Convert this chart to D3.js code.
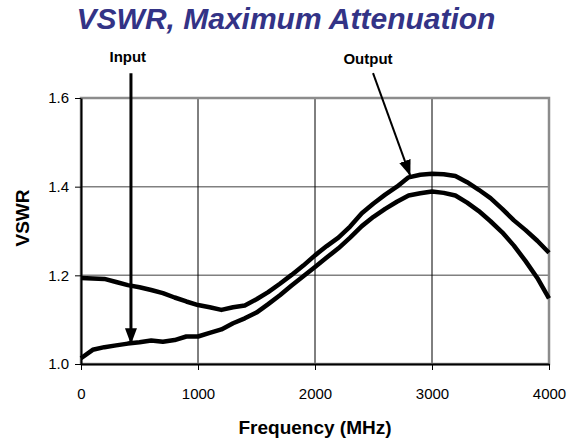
<!DOCTYPE html>
<html>
<head>
<meta charset="utf-8">
<script src="https://cdn.jsdelivr.net/npm/d3@7"></script>
<style>
  body { margin: 0; background: #fff; }
  text { font-family: Arial, "Liberation Sans", sans-serif; }
</style>
</head>
<body>
<svg id="chart" width="585" height="442"></svg>
<script>
const frequencies = [0, 100, 200, 300, 400, 500, 600, 700, 800, 900,
  1000, 1100, 1200, 1300, 1400, 1500, 1600, 1700, 1800, 1900,
  2000, 2100, 2200, 2300, 2400, 2500, 2600, 2700, 2800, 2900,
  3000, 3100, 3200, 3300, 3400, 3500, 3600, 3700, 3800, 3900, 4000];

// curve that starts high (arrow "Output" points to it near the peak)
const upperVswr = [1.194, 1.193, 1.192, 1.185, 1.178, 1.173, 1.167, 1.160, 1.150, 1.141,
  1.133, 1.128, 1.122, 1.128, 1.132, 1.146, 1.162, 1.181, 1.201, 1.222,
  1.245, 1.266, 1.285, 1.310, 1.340, 1.362, 1.382, 1.400, 1.421, 1.427,
  1.429, 1.428, 1.424, 1.410, 1.393, 1.374, 1.350, 1.324, 1.302, 1.278, 1.251];

// curve that starts low (arrow "Input" points to it)
const lowerVswr = [1.013, 1.032, 1.038, 1.042, 1.046, 1.049, 1.053, 1.050, 1.054, 1.062,
  1.062, 1.070, 1.078, 1.092, 1.103, 1.116, 1.135, 1.155, 1.177, 1.198,
  1.219, 1.240, 1.261, 1.285, 1.311, 1.332, 1.350, 1.366, 1.380, 1.385,
  1.389, 1.386, 1.380, 1.364, 1.345, 1.322, 1.297, 1.267, 1.232, 1.194, 1.148];

const xTicks = [0, 1000, 2000, 3000, 4000];
const yTicks = [1.0, 1.2, 1.4, 1.6];

// annotations: label, label position, arrow start, arrow tip (data units)
const annotations = [
  { label: 'Input', labelAt: [400, 1.681], from: [427, 1.656], to: [427, 1.047] },
  { label: 'Output', labelAt: [2453, 1.677], from: [2496, 1.656], to: [2812, 1.426] }
];

const margin = { top: 98, right: 36, bottom: 78, left: 81 };
const width = 585 - margin.left - margin.right;
const height = 442 - margin.top - margin.bottom;

const svg = d3.select('#chart');

svg.append('defs')
  .append('marker')
  .attr('id', 'arrow')
  .attr('markerUnits', 'userSpaceOnUse')
  .attr('markerWidth', 16)
  .attr('markerHeight', 12)
  .attr('refX', 15)
  .attr('refY', 6)
  .attr('orient', 'auto')
  .append('path')
  .attr('d', 'M0,0 L16,6 L0,12 Z')
  .attr('fill', '#000');

svg.append('text')
  .attr('x', 286)
  .attr('y', 29)
  .attr('text-anchor', 'middle')
  .attr('font-size', 30)
  .attr('font-weight', 'bold')
  .attr('font-style', 'italic')
  .attr('fill', '#333386')
  .text('VSWR, Maximum Attenuation');

const g = svg.append('g').attr('transform', `translate(${margin.left},${margin.top})`);

const x = d3.scaleLinear().domain([0, 4000]).range([0, width]);
const y = d3.scaleLinear().domain([1.0, 1.6]).range([height, 0]);

// grid
g.append('g')
  .selectAll('line')
  .data(yTicks.slice(1, -1))
  .join('line')
  .attr('x1', 0)
  .attr('x2', width)
  .attr('y1', d => y(d))
  .attr('y2', d => y(d))
  .attr('stroke', '#808080')
  .attr('stroke-width', 1.5);

g.append('g')
  .selectAll('line')
  .data(xTicks.slice(1, -1))
  .join('line')
  .attr('x1', d => x(d))
  .attr('x2', d => x(d))
  .attr('y1', 0)
  .attr('y2', height)
  .attr('stroke', '#000')
  .attr('stroke-width', 1);

// plot frame
g.append('rect')
  .attr('width', width)
  .attr('height', height)
  .attr('fill', 'none')
  .attr('stroke', '#8c8c8c')
  .attr('stroke-width', 2.5);

const xAxis = g.append('g')
  .attr('transform', `translate(0,${height})`)
  .call(d3.axisBottom(x).tickValues(xTicks).tickFormat(d3.format('d'))
    .tickSize(6).tickPadding(18).tickSizeOuter(0));

const yAxis = g.append('g')
  .call(d3.axisLeft(y).tickValues(yTicks).tickFormat(d3.format('.1f'))
    .tickSize(6).tickPadding(6).tickSizeOuter(0));

[xAxis, yAxis].forEach(a => {
  a.select('.domain').attr('stroke', '#000').attr('stroke-width', 2);
  a.selectAll('.tick line').attr('stroke', '#000').attr('stroke-width', 1);
  a.selectAll('.tick text')
    .attr('font-size', 15)
    .attr('fill', '#000')
    .style('font-family', 'Arial, "Liberation Sans", sans-serif');
});

// series
const line = d3.line()
  .x(d => x(d[0]))
  .y(d => y(d[1]));

[upperVswr, lowerVswr].forEach(values => {
  g.append('path')
    .datum(frequencies.map((f, i) => [f, values[i]]))
    .attr('d', line)
    .attr('fill', 'none')
    .attr('stroke', '#000')
    .attr('stroke-width', 4.5)
    .attr('stroke-linejoin', 'round');
});

// axis titles
g.append('text')
  .attr('x', width / 2)
  .attr('y', height + 70)
  .attr('text-anchor', 'middle')
  .attr('font-size', 19)
  .attr('font-weight', 'bold')
  .text('Frequency (MHz)');

g.append('text')
  .attr('transform', `translate(-52,${height / 2 - 13}) rotate(-90)`)
  .attr('text-anchor', 'middle')
  .attr('font-size', 19)
  .attr('font-weight', 'bold')
  .text('VSWR');

// arrows and labels
annotations.forEach(a => {
  g.append('line')
    .attr('x1', x(a.from[0]))
    .attr('y1', y(a.from[1]))
    .attr('x2', x(a.to[0]))
    .attr('y2', y(a.to[1]))
    .attr('stroke', '#000')
    .attr('stroke-width', a.label === 'Input' ? 3 : 2)
    .attr('marker-end', 'url(#arrow)');

  g.append('text')
    .attr('x', x(a.labelAt[0]))
    .attr('y', y(a.labelAt[1]))
    .attr('text-anchor', 'middle')
    .attr('font-size', 15)
    .attr('font-weight', 'bold')
    .text(a.label);
});
</script>
</body>
</html>
